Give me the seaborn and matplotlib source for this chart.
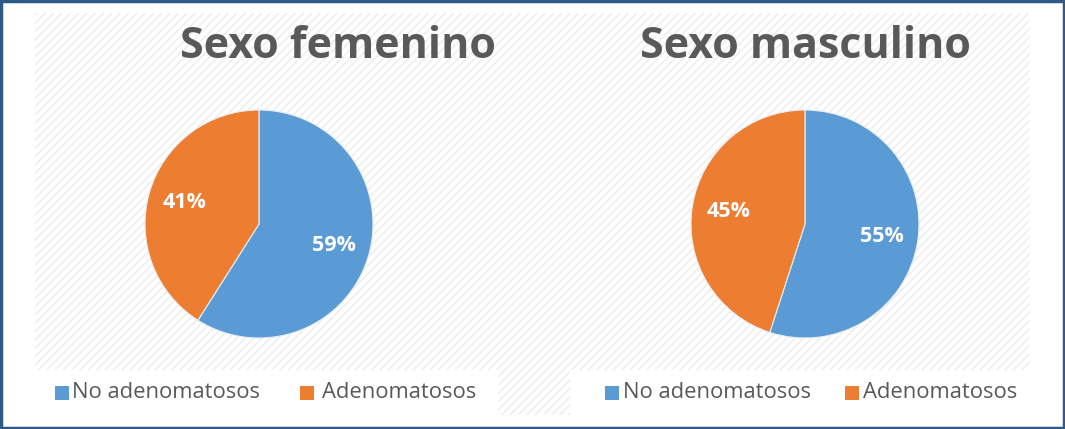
import matplotlib
matplotlib.use("Agg")
import matplotlib.pyplot as plt
from matplotlib.patches import Rectangle
import seaborn as sns

sns.set_theme(style="white")
plt.rcParams['font.family'] = ['Open Sans', 'DejaVu Sans']

categories = ["No adenomatosos", "Adenomatosos"]
fem_values = [59, 41]
masc_values = [55, 45]
titles = ["Sexo femenino", "Sexo masculino"]
colors = ["#5B9BD5", "#ED7D31"]

W, H = 1065, 429
fig = plt.figure(figsize=(W / 100, H / 100), dpi=100)
fig.patch.set_facecolor("white")

def fx(x):
    return x / W

def fy(y):
    return 1 - y / H

# hatched background
bg = Rectangle((fx(35), fy(415)), fx(1030) - fx(35), fy(13) - fy(415),
               transform=fig.transFigure, facecolor="white",
               edgecolor="#ececec", hatch="////", linewidth=0, zorder=-2)
fig.patches.append(bg)
# white legend boxes
for x0, x1 in [(35, 498), (570, 1030)]:
    fig.patches.append(Rectangle((fx(x0), fy(415)), fx(x1) - fx(x0), fy(370) - fy(415),
                                 transform=fig.transFigure, facecolor="white",
                                 edgecolor="none", zorder=-1))
# frame border
fig.patches.append(Rectangle((0.001, 0.002), 0.998, 0.996, transform=fig.transFigure,
                             facecolor="none", edgecolor="#2E5A88", linewidth=2.5, zorder=5))

pies = [(fem_values, 259, 224, 338), (masc_values, 805, 224, 805)]
r = 114
for i, (vals, cx, cy, tx) in enumerate(pies):
    ax = fig.add_axes([fx(cx - r), fy(cy + r), 2 * r / W, 2 * r / H])
    ax.set_zorder(3)
    ax.patch.set_alpha(0)
    wedges, texts, autotexts = ax.pie(
        vals, colors=colors, startangle=90, counterclock=False,
        autopct=lambda p: f"{p:.0f}%", pctdistance=0.68,
        wedgeprops=dict(edgecolor="#e8eef5", linewidth=0.8))
    for t in autotexts:
        t.set_color("white")
        t.set_fontsize(15.5)
        t.set_fontweight("bold")
    ax.set_xlim(-1, 1)
    ax.set_ylim(-1, 1)
    ax.set_aspect("equal")
    ax.axis("off")
    fig.text(fx(tx), fy(47), titles[i], ha="center", va="center",
             fontsize=31, fontweight="bold", color="#595959")

legend_pos = [[(55, 72), (300, 322)], [(605, 623), (845, 863)]]
for lp in legend_pos:
    for j, (sx, tx) in enumerate(lp):
        fig.patches.append(Rectangle((fx(sx), fy(400)), 14 / W, 14 / H,
                                     transform=fig.transFigure, facecolor=colors[j],
                                     edgecolor="none", zorder=3))
        fig.text(fx(tx), fy(393), categories[j], ha="left", va="center",
                 fontsize=15.8, color="#595959", zorder=3)

fig.savefig("out.png", dpi=100, facecolor="white")
